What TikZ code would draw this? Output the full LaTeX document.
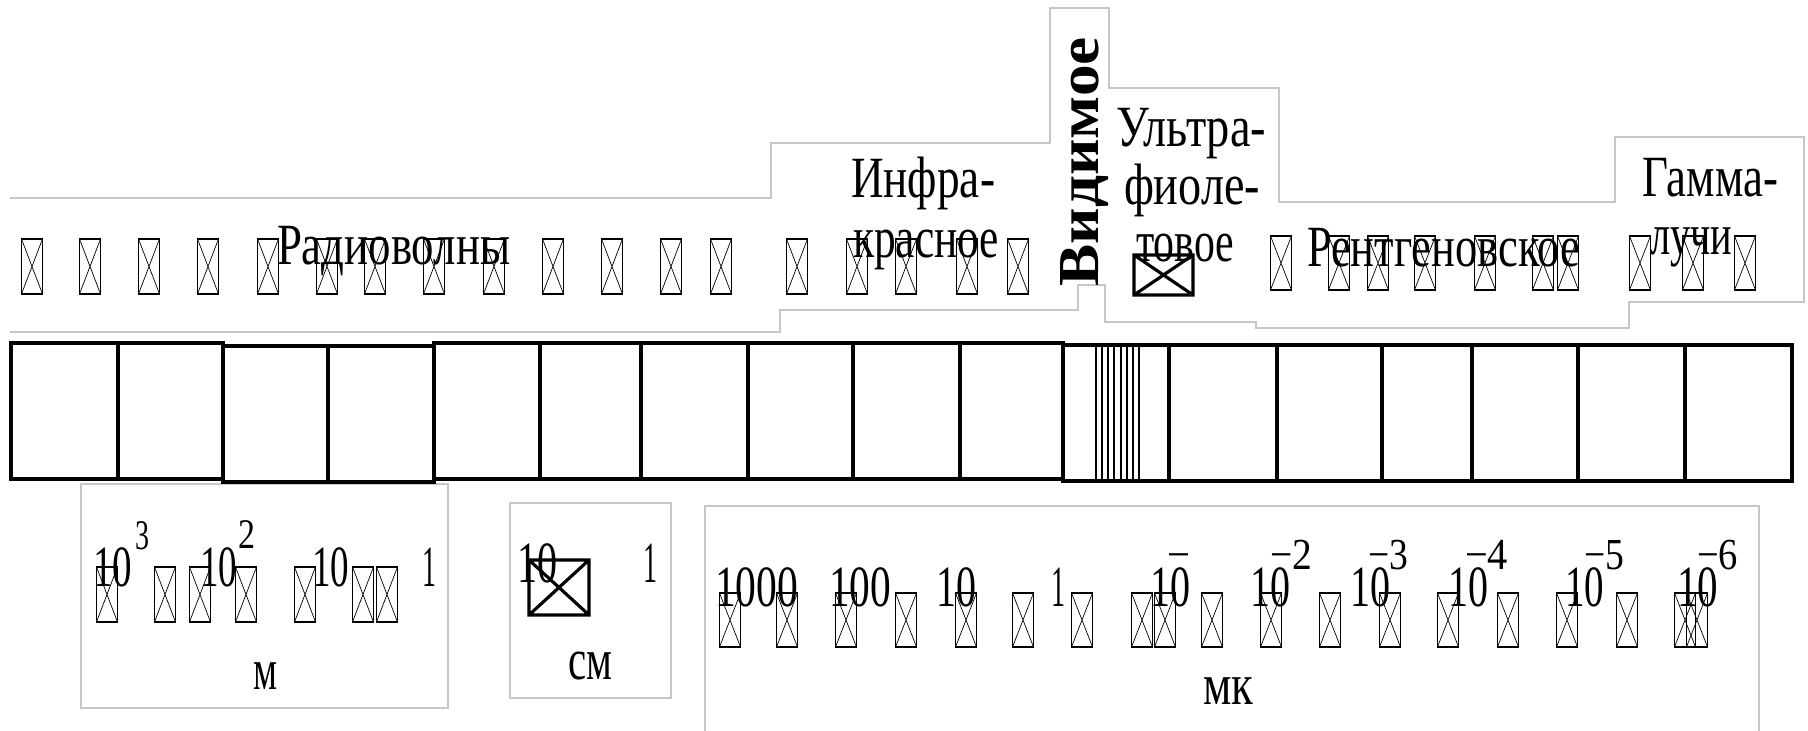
\documentclass[tikz,border=0pt]{standalone}
\usepackage{fontspec}
\setmainfont{Liberation Serif}
\usepackage{graphicx}
\newcommand\tw[2]{\resizebox{#1cm}{\height}{#2}}
\begin{document}
\begin{tikzpicture}[x=0.01cm,y=-0.01cm,
  lbl/.style={anchor=base west,inner sep=0pt,outer sep=0pt,font=\fontsize{16.6}{18}\selectfont},
  supm/.style={anchor=base west,inner sep=0pt,outer sep=0pt,font=\fontsize{12}{13}\selectfont},
  supk/.style={anchor=base west,inner sep=0pt,outer sep=0pt,font=\fontsize{12.6}{13}\selectfont},
  outline/.style={draw=black!22,line width=0.4pt},
  bar/.style={line width=1.2pt},
  vis/.style={line width=0.8pt},
  xbox/.style={line width=0.5pt},
  xcross/.style={line width=0.2pt},
  bigbox/.style={line width=0.9pt}]
\useasboundingbox (0,0) rectangle (1808,731);

% light grey text-box outlines
\draw[outline] (10,198) -- (771,198) -- (771,143) -- (1050,143) -- (1050,8) -- (1109,8)
  -- (1109,88) -- (1279,88) -- (1279,202) -- (1615,202) -- (1615,137) -- (1804,137)
  -- (1804,302) -- (1629,302) -- (1629,328) -- (1256,328) -- (1256,322) -- (1105,322)
  -- (1105,285) -- (1078,285) -- (1078,310) -- (780,310) -- (780,332) -- (10,332);
\draw[outline] (81,484) rectangle (448,708);
\draw[outline] (510,503) rectangle (671,698);
\draw[outline] (705,740) -- (705,506) -- (1759,506) -- (1759,740);

% the bar
\draw[bar] (11,343) rectangle (223,479);
\draw[bar] (223,346) rectangle (434,482);
\draw[bar] (434,343) rectangle (1063,479);
\draw[bar] (1063,345) rectangle (1792,481);
\foreach \x/\t/\b in {118/343/479, 328/346/482, 540/343/479, 641/343/479, 748/343/479,
  853/343/479, 960/343/479, 1169/345/481, 1277/345/481, 1382/345/481, 1472/345/481,
  1578/345/481, 1685/345/481}
  \draw[bar] (\x,\t) -- (\x,\b);
\foreach \x in {1096,1102,1108,1114,1121,1127,1133,1139}
  \draw[vis] (\x,345) -- (\x,481);

% missing-glyph boxes
\foreach \x in {32,90,149,208,268,327,375,434,494,553,612,671,721,797,857,906,967,1018}{
  \draw[xbox] (\x-10.5,239) rectangle (\x+10.5,294);
  \draw[xcross] (\x-10.5,239) -- (\x+10.5,294) (\x-10.5,294) -- (\x+10.5,239);}
\foreach \x in {1281,1339,1378,1425,1485,1543,1568,1640,1693,1745}{
  \draw[xbox] (\x-10.5,236) rectangle (\x+10.5,290);
  \draw[xcross] (\x-10.5,236) -- (\x+10.5,290) (\x-10.5,290) -- (\x+10.5,236);}
\foreach \x in {107,165,200,246,305,363,387}{
  \draw[xbox] (\x-10.5,567) rectangle (\x+10.5,622);
  \draw[xcross] (\x-10.5,567) -- (\x+10.5,622) (\x-10.5,622) -- (\x+10.5,567);}
\foreach \x in {730,787,846,906,966,1023,1082,1142,1165,1212,1271,1330,1390,1448,1508,1567,1627,1685,1697}{
  \draw[xbox] (\x-10.5,593) rectangle (\x+10.5,647);
  \draw[xcross] (\x-10.5,593) -- (\x+10.5,647) (\x-10.5,647) -- (\x+10.5,593);}
\draw[bigbox] (1134,255) rectangle (1193,295) (1134,255) -- (1193,295) (1134,295) -- (1193,255);
\draw[bigbox] (529,560) rectangle (589,615) (529,560) -- (589,615) (529,615) -- (589,560);

% band names
\node[lbl] (radio) at (277,265) {\tw{2.33}{Радиоволны}};
\node[lbl] (ir1) at (851,198) {\tw{1.44}{Инфра-}};
\node[lbl] (ir2) at (853,258) {\tw{1.46}{красное}};
\node[anchor=base west,inner sep=0pt,rotate=90,font=\fontsize{16.5}{18}\selectfont\bfseries] (vis) at (1098,287) {\tw{2.49}{Видимое}};
\node[lbl] (uv1) at (1116,147) {\tw{1.50}{Ультра-}};
\node[lbl] (uv2) at (1124,205) {\tw{1.36}{фиоле-}};
\node[lbl] (uv3) at (1136,262) {\tw{0.98}{товое}};
\node[lbl] (xr) at (1307,267) {\tw{2.73}{Рентгеновское}};
\node[lbl] (g1) at (1642,197) {\tw{1.36}{Гамма-}};
\node[lbl] (g2) at (1650,255) {\tw{0.82}{лучи}};

% metres
\node[lbl] (m1) at (93,587) {\tw{0.39}{10}};
\node[supm] (m1s) at (135,550) {\tw{0.14}{3}};
\node[lbl] (m2) at (200,587) {\tw{0.37}{10}};
\node[supm] (m2s) at (238,549) {\tw{0.17}{2}};
\node[lbl] (m3) at (312,587) {\tw{0.37}{10}};
\node[lbl] (m4) at (422,587) {\tw{0.14}{1}};
\node[lbl] (mu) at (254,690) {\tw{0.24}{м}};

% centimetres
\node[lbl] (c1) at (517,583) {\tw{0.40}{10}};
\node[lbl] (c2) at (643,583) {\tw{0.14}{1}};
\node[lbl] (cu) at (568,680) {\tw{0.44}{см}};

% microns
\node[lbl] (k1) at (715,607) {\tw{0.83}{1000}};
\node[lbl] (k2) at (829,607) {\tw{0.62}{100}};
\node[lbl] (k3) at (936,607) {\tw{0.40}{10}};
\node[lbl] (k4) at (1051,607) {\tw{0.14}{1}};
\node[lbl] (k5) at (1150,607) {\tw{0.40}{10}};
\node[supk] (k5s) at (1167,570) {\tw{0.23}{−}};
\node[lbl] (k6) at (1250,607) {\tw{0.40}{10}};
\node[supk] (k6s) at (1270,570) {\tw{0.42}{−2}};
\node[lbl] (k7) at (1350,607) {\tw{0.40}{10}};
\node[supk] (k7s) at (1368,570) {\tw{0.40}{−3}};
\node[lbl] (k8) at (1448,607) {\tw{0.40}{10}};
\node[supk] (k8s) at (1465,570) {\tw{0.43}{−4}};
\node[lbl] (k9) at (1565,607) {\tw{0.39}{10}};
\node[supk] (k9s) at (1584,570) {\tw{0.40}{−5}};
\node[lbl] (k10) at (1677,607) {\tw{0.41}{10}};
\node[supk] (k10s) at (1697,570) {\tw{0.41}{−6}};
\node[lbl] (ku) at (1203,705) {\tw{0.50}{мк}};
\end{tikzpicture}
\end{document}
